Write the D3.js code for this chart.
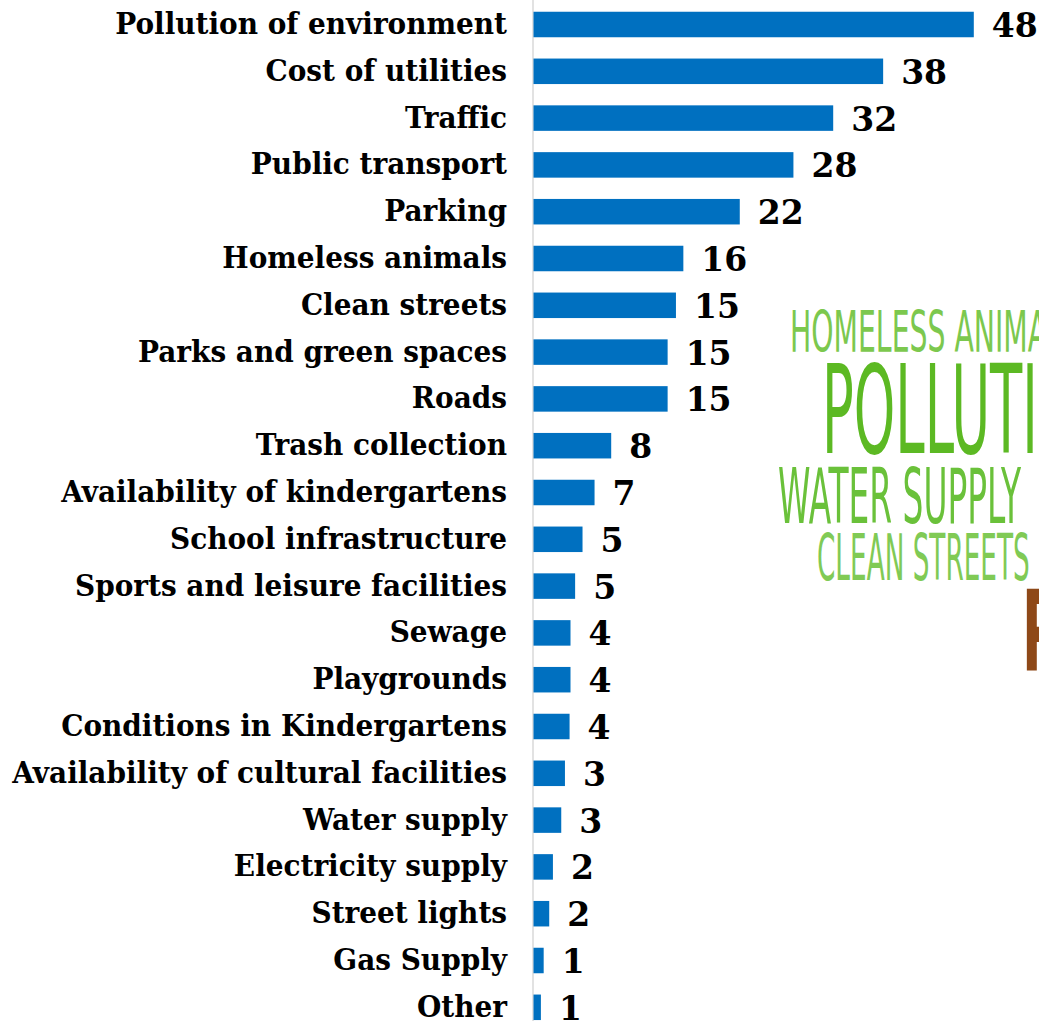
<!DOCTYPE html>
<html>
<head>
<meta charset="utf-8">
<script src="https://cdn.jsdelivr.net/npm/d3@7"></script>
<style>
  html, body { margin: 0; padding: 0; background: #fff; overflow: hidden; }
  svg { display: block; }
</style>
</head>
<body>
<div id="chart"></div>
<script>
// categories, top to bottom
var categories = [
  "Pollution of environment", "Cost of utilities", "Traffic", "Public transport",
  "Parking", "Homeless animals", "Clean streets", "Parks and green spaces", "Roads",
  "Trash collection", "Availability of kindergartens", "School infrastructure",
  "Sports and leisure facilities", "Sewage", "Playgrounds", "Conditions in Kindergartens",
  "Availability of cultural facilities", "Water supply", "Electricity supply",
  "Street lights", "Gas Supply", "Other"
];
// shares in %, labels show them rounded
var values = [47.6, 37.8, 32.4, 28.1, 22.3, 16.2, 15.4, 14.5, 14.5, 8.4, 6.6, 5.3,
              4.5, 4.0, 4.0, 3.9, 3.4, 3.0, 2.1, 1.7, 1.1, 0.8];

// word cloud picture on the right (cut off by the edge)
var cloudWords  = ["HOMELESS ANIMALS", "POLLUTION", "WATER SUPPLY", "CLEAN STREETS", "PARKING"];
var cloudColors = ["#7cc84e", "#5cb923", "#6ac13a", "#80ca55", "#8e4818"];

var W = 1039, H = 1021;
var axisX = 533;

var svg = d3.select("#chart").append("svg")
  .attr("width", W)
  .attr("height", H);

var x = d3.scaleLinear()
  .domain([0, 50])
  .range([axisX + 0.5, axisX + 0.5 + 462.5]);

var y = d3.scaleBand()
  .domain(categories)
  .range([1.1, 1.1 + 22 * 46.8])
  .paddingInner(0.455)
  .paddingOuter(0.2275);

var fmt = function(v) { return String(Math.round(v)); };

// word cloud first, so the chart sits on top
var cloud = [
  {x: 790, base: 352, cap: 42, stretch: 1.15, weight: "normal"},
  {x: 822, base: 453, cap: 90, stretch: 1.0, weight: "normal"},
  {x: 778, base: 523, cap: 56, stretch: 1.0, weight: "normal"},
  {x: 817, base: 580, cap: 47, stretch: 0.955, weight: "normal"},
  {x: 1022, base: 670, cap: 82, stretch: 1.1, weight: "bold"}
];
var cg = svg.append("g").attr("class", "cloud");
// squeeze factor from the fully visible "WATER SUPPLY"
var probe = cg.append("text")
  .style("font-family", "DejaVu Sans")
  .style("font-size", (cloud[2].cap / 0.729) + "px")
  .text(cloudWords[2]);
var sx = 243 / probe.node().getComputedTextLength();
probe.remove();

cloudWords.forEach(function(w, i) {
  var c = cloud[i];
  cg.append("text")
    .attr("transform", "translate(" + c.x + "," + c.base + ") scale(" + (sx * c.stretch) + ",1)")
    .style("font-family", "DejaVu Sans")
    .style("font-weight", c.weight)
    .style("font-size", (c.cap / 0.729) + "px")
    .style("fill", cloudColors[i])
    .text(w);
});

// axis line
svg.append("line")
  .attr("x1", axisX).attr("x2", axisX)
  .attr("y1", 0).attr("y2", H)
  .style("stroke", "#d9d9d9")
  .style("stroke-width", 1.5);

// bars
svg.selectAll("rect.bar")
  .data(values)
  .enter().append("rect")
  .attr("class", "bar")
  .attr("x", x(0))
  .attr("y", function(d, i) { return y(categories[i]); })
  .attr("width", function(d) { return x(d) - x(0); })
  .attr("height", y.bandwidth())
  .style("fill", "#0070c0");

// value labels
svg.selectAll("text.val")
  .data(values)
  .enter().append("text")
  .attr("class", "val")
  .attr("x", function(d) { return x(d) + 18; })
  .attr("y", function(d, i) { return y(categories[i]) + y.bandwidth() / 2 + 12.5; })
  .style("font-family", "DejaVu Serif")
  .style("font-weight", "bold")
  .style("font-size", "33px")
  .style("fill", "#000")
  .text(fmt);

// category labels, right aligned against the axis
var labels = svg.selectAll("text.cat")
  .data(categories)
  .enter().append("text")
  .attr("class", "cat")
  .attr("text-anchor", "end")
  .style("font-family", "DejaVu Serif")
  .style("font-weight", "bold")
  .style("font-size", "29px")
  .style("fill", "#000")
  .text(function(d) { return d; });

// squeeze labels so the longest one spans like in the original
var longest = d3.max(labels.nodes(), function(n) { return n.getComputedTextLength(); });
var lx = 495 / longest;
labels.attr("transform", function(d) {
  return "translate(507," + (y(d) + y.bandwidth() / 2 + 9.5) + ") scale(" + lx + ",1)";
});
</script>
</body>
</html>
